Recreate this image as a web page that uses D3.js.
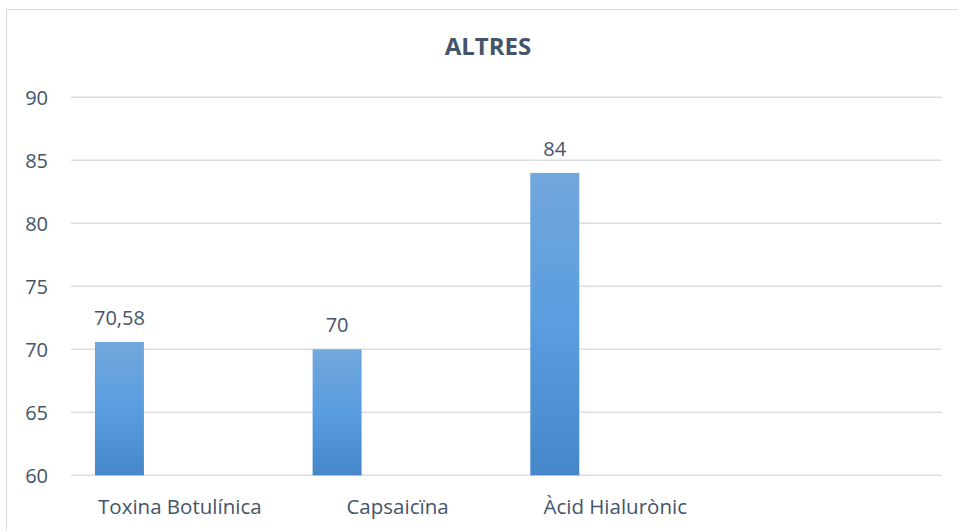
<!DOCTYPE html>
<html><head><meta charset="utf-8">
<script src="https://cdn.jsdelivr.net/npm/d3@7"></script>
<style>
html,body{margin:0;padding:0;background:#fff;}
svg{display:block;font-family:"Open Sans",sans-serif;}
</style></head>
<body>
<svg id="c" width="958" height="531"></svg>
<script>
const title = "ALTRES";
const categories = ["Toxina Botulínica", "Capsaicïna", "Àcid Hialurònic", ""];
const values = [70.58, 70, 84, null];
const valueLabels = ["70,58", "70", "84", ""];
const yTicks = [60, 65, 70, 75, 80, 85, 90];

(function () {
const svg = d3.select("#c");
const textColor = "#44546a";

// chart border
svg.append("rect").attr("x", 6.5).attr("y", 9.5).attr("width", 980).attr("height", 560)
  .attr("fill", "none").attr("stroke", "#d9d9d9").attr("stroke-width", 1);

const defs = svg.append("defs");
const grad = defs.append("linearGradient").attr("id", "barGrad")
  .attr("x1", 0).attr("y1", 0).attr("x2", 0).attr("y2", 1);
grad.append("stop").attr("offset", "0%").attr("stop-color", "#71a7dc");
grad.append("stop").attr("offset", "50%").attr("stop-color", "#5a9de0");
grad.append("stop").attr("offset", "100%").attr("stop-color", "#4587c9");

const pLeft = 71, pRight = 941.7, pTop = 97.3, pBottom = 475.3;

const x = d3.scaleBand().domain(categories.map((d, i) => i)).range([pLeft, pRight]).padding(0);
const y = d3.scaleLinear().domain([60, 90]).range([pBottom, pTop]);

// gridlines
svg.append("g").selectAll("line").data(yTicks).join("line")
  .attr("x1", pLeft).attr("x2", pRight)
  .attr("y1", d => y(d)).attr("y2", d => y(d))
  .attr("stroke", "#dadde2").attr("stroke-width", 1.4);

// y axis labels
const yAxis = d3.axisLeft(y).tickValues(yTicks).tickSize(0).tickPadding(0);
const gy = svg.append("g").attr("transform", "translate(48,0)").call(yAxis);
gy.select(".domain").remove();
gy.selectAll("text").attr("font-size", 20).attr("fill", textColor)
  .attr("font-family", "Open Sans, sans-serif").attr("dy", "0.36em");

// x axis labels
const xAxis = d3.axisBottom(x).tickFormat(i => categories[i]).tickSize(0).tickPadding(0);
const gx = svg.append("g").attr("transform", `translate(0,${pBottom})`).call(xAxis);
gx.select(".domain").remove();
gx.selectAll("text").attr("font-size", 20.5).attr("fill", textColor)
  .attr("font-family", "Open Sans, sans-serif").attr("dy", 0).attr("y", 39);

// bars
const bw = x.bandwidth();
const barOff = bw * 0.11, barW = bw * 0.225;
const data = categories.map((c, i) => ({ i, v: values[i], label: valueLabels[i] })).filter(d => d.v != null);
svg.append("g").selectAll("rect").data(data).join("rect")
  .attr("x", d => x(d.i) + barOff)
  .attr("width", barW)
  .attr("y", d => y(d.v))
  .attr("height", d => y(60) - y(d.v))
  .attr("fill", "url(#barGrad)");

// value labels
svg.append("g").selectAll("text").data(data).join("text")
  .attr("x", d => x(d.i) + barOff + barW / 2)
  .attr("y", d => y(d.v) - 17)
  .attr("text-anchor", "middle")
  .attr("font-size", 20).attr("fill", textColor)
  .text(d => d.label);

// title
svg.append("text").attr("x", 488).attr("y", 55).attr("text-anchor", "middle")
  .attr("font-size", 24).attr("font-weight", "bold").attr("fill", textColor)
  .text(title);
})();
</script>
</body></html>
